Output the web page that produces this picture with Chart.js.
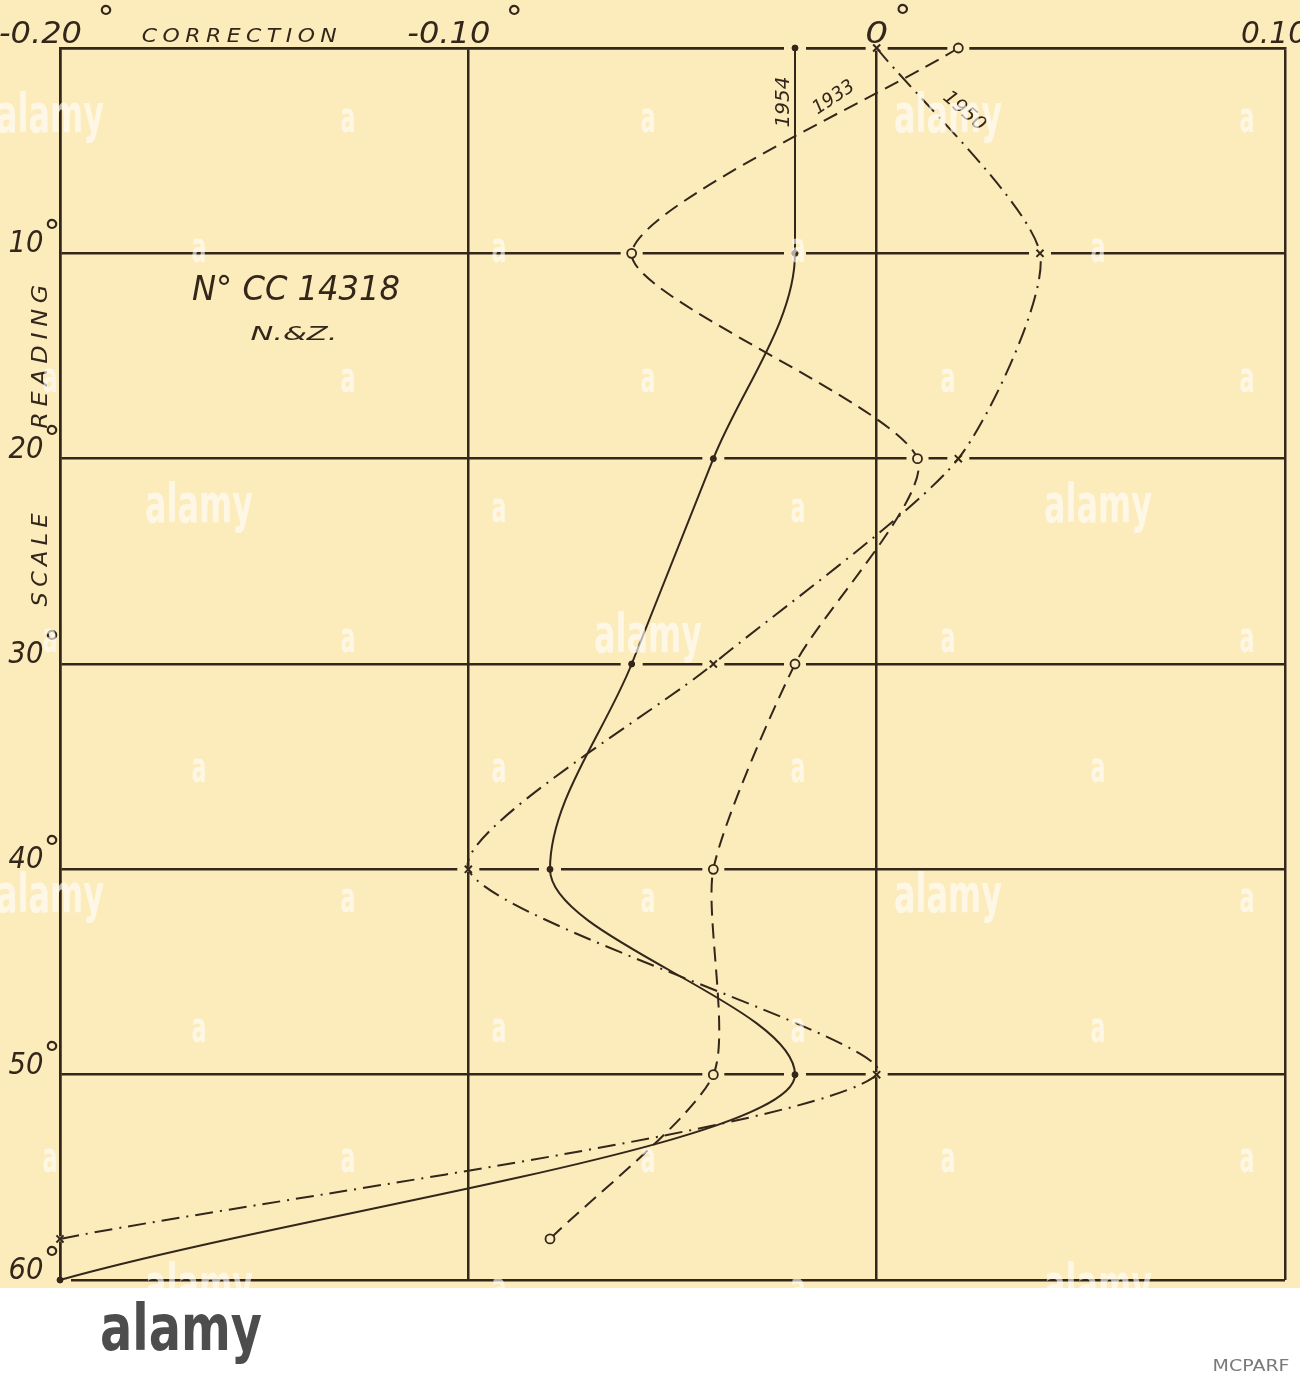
<!DOCTYPE html>
<html>
<head>
<meta charset="utf-8">
<script src="https://cdn.jsdelivr.net/npm/chart.js@4.4.1/dist/chart.umd.min.js"></script>
<style>
  html, body { margin: 0; padding: 0; background: #ffffff; }
  canvas { display: block; }
</style>
</head>
<body>
<canvas id="c" width="1300" height="1376"></canvas>
<script>
// ---------------- DATA ----------------
const readings = [0, 10, 20, 30, 40, 50, 60];
const readingsShort = [0, 10, 20, 30, 40, 50, 58];
const correction1954 = [-0.02, -0.02, -0.04, -0.06, -0.08, -0.02, -0.20];
const correction1933 = [0.02, -0.06, 0.01, -0.02, -0.04, -0.04, -0.08];
const correction1950 = [0.00, 0.04, 0.02, -0.04, -0.10, 0.00, -0.20];
const correctionTicks = [-0.20, -0.10, 0, 0.10];
const readingTicks = [10, 20, 30, 40, 50, 60];
const seriesNames = ['1954', '1933', '1950'];
const axisTitleX = 'CORRECTION';
const axisTitleY = ['SCALE', 'READING'];
const instrumentLabel = ['N\u00B0 CC 14318', 'N.&Z.'];

// ---------------- STYLE ----------------
const ink = '#33261a';
const paper = '#fcebbb';
const FONT = '"DejaVu Sans"';

function pts(xs, ys) { return xs.map((v, i) => ({ x: v, y: ys[i] })); }

function drawFitted(ctx, text, cx, baseY, size, width, angle, opts) {
  opts = opts || {};
  ctx.save();
  ctx.translate(cx, baseY);
  if (angle) ctx.rotate(angle);
  ctx.font = (opts.style || 'italic') + ' ' + (opts.weight || 'normal') + ' ' + size + 'px ' + (opts.family || FONT);
  if (opts.spacing && 'letterSpacing' in ctx) ctx.letterSpacing = opts.spacing + 'px';
  let w = ctx.measureText(text).width;
  if (opts.spacing && 'letterSpacing' in ctx) w -= opts.spacing;
  if (width) ctx.scale(width / w, 1);
  ctx.textAlign = 'center';
  ctx.textBaseline = 'alphabetic';
  ctx.fillStyle = opts.color || ink;
  ctx.fillText(text, 0, 0);
  ctx.restore();
}

function degree(ctx, cx, cy) {
  drawFitted(ctx, '\u00B0', cx, cy + 20, 34, null, 0, { style: 'normal' });
}

const bgPlugin = {
  id: 'paper',
  beforeDraw(chart) {
    const ctx = chart.ctx;
    ctx.save();
    ctx.fillStyle = '#ffffff';
    ctx.fillRect(0, 0, chart.width, chart.height);
    ctx.fillStyle = paper;
    ctx.fillRect(0, 0, chart.width, 1288);
    ctx.restore();
  }
};

const gapPlugin = {
  id: 'gaps',
  beforeDatasetsDraw(chart) {
    const ctx = chart.ctx;
    ctx.save();
    ctx.fillStyle = paper;
    chart.data.datasets.forEach((ds, i) => {
      chart.getDatasetMeta(i).data.forEach(p => {
        ctx.fillRect(p.x - 11, p.y - 2.5, 22, 5);
      });
    });
    ctx.restore();
  }
};

const textPlugin = {
  id: 'texts',
  afterDraw(chart) {
    const ctx = chart.ctx;
    const xs = chart.scales.x, ys = chart.scales.y;

    correctionTicks.forEach(v => {
      const px = xs.getPixelForValue(v);
      if (Math.abs(v) < 1e-9) {
        drawFitted(ctx, '0', px, 43, 30, 23);
        degree(ctx, px + 26, 9);
      } else {
        const t = (v < 0 ? '-' : '') + Math.abs(v).toFixed(2);
        const w = v < 0 ? 83 : 66;
        const left = v < 0 ? px - 61 : px - 44;
        drawFitted(ctx, t, left + w / 2, 43, 30, w);
        degree(ctx, px + 46, 10);
      }
    });
    drawFitted(ctx, axisTitleX, 242, 42, 20, 195, 0, { spacing: 5 });

    readingTicks.forEach(r => {
      const py = ys.getPixelForValue(r);
      drawFitted(ctx, String(r), 26, py - 1, 30, 35);
      degree(ctx, 52, py - 29);
    });
    drawFitted(ctx, axisTitleY[1], 47, ys.getPixelForValue(14.9), 21, 144, -Math.PI / 2, { spacing: 5 });
    drawFitted(ctx, axisTitleY[0], 47, ys.getPixelForValue(24.8), 21, 93, -Math.PI / 2, { spacing: 5 });

    drawFitted(ctx, instrumentLabel[0], 296, 300, 34, 208);
    drawFitted(ctx, instrumentLabel[1], 294, 340, 20, 87);

    drawFitted(ctx, seriesNames[0], xs.getPixelForValue(-0.0215), ys.getPixelForValue(2.63), 19, 51, -Math.PI / 2);
    drawFitted(ctx, seriesNames[1], xs.getPixelForValue(-0.0098), ys.getPixelForValue(2.63), 19, 46, -34 * Math.PI / 180);
    drawFitted(ctx, seriesNames[2], xs.getPixelForValue(0.0206), ys.getPixelForValue(3.26), 19, 50, 41 * Math.PI / 180);

    // stock-photo watermark overlay
    ctx.save();
    const wmColor = 'rgba(255,255,255,0.62)';
    const big = [[50,120],[948,120],[199,510],[1098,510],[648,640],[50,900],[948,900],[199,1290],[1098,1290]];
    const isBig = (x, y) => big.some(b => b[0] === x && b[1] === y);
    const evenX = [50, 348, 648, 948, 1247];
    const oddX = [199, 499, 798, 1098];
    for (let k = 0; k < 10; k++) {
      const y = 120 + 130 * k;
      const row = (k % 2 === 0) ? evenX : oddX;
      row.forEach(x => {
        if (isBig(x, y)) {
          drawFitted(ctx, 'alamy', x, y + 12, 54, 108, 0, { style: 'normal', weight: 'bold', color: wmColor });
        } else {
          drawFitted(ctx, 'a', x, y + 12, 42, 15, 0, { style: 'normal', weight: 'bold', color: wmColor });
        }
      });
    }
    ctx.restore();

    // bottom band
    ctx.save();
    ctx.fillStyle = '#ffffff';
    ctx.fillRect(0, 1288, chart.width, chart.height - 1288);
    ctx.restore();
    drawFitted(ctx, 'alamy', 181, 1350, 64, 162, 0, { style: 'normal', weight: 'bold', color: '#4d4d4d' });
    drawFitted(ctx, 'MCPARF', 1251, 1371, 15, 77, 0, { style: 'normal', color: '#7a7a7a' });
  }
};

const common = { borderColor: ink, borderWidth: 2, clip: false, fill: false, pointBorderColor: ink };

const datasets = [
  Object.assign({}, common, {
    label: seriesNames[0], data: pts(correction1954, readings), cubicInterpolationMode: 'monotone',
    pointStyle: 'circle', pointRadius: 3, pointBackgroundColor: ink, pointBorderWidth: 1
  }),
  Object.assign({}, common, {
    label: seriesNames[1], data: pts(correction1933, readingsShort), tension: 0.22,
    borderDash: [15, 8], pointStyle: 'circle', pointRadius: 4.5, pointBackgroundColor: paper, pointBorderWidth: 1.8
  }),
  Object.assign({}, common, {
    label: seriesNames[2], data: pts(correction1950, readingsShort), tension: 0.22,
    borderDash: [18, 7, 2, 7], pointStyle: 'crossRot', pointRadius: 5, pointBackgroundColor: ink, pointBorderWidth: 2
  })
];

const gridStyle = { color: ink, lineWidth: 2.5, drawTicks: false };
const borderStyle = { display: true, color: ink, width: 2.5 };

new Chart(document.getElementById('c'), {
  type: 'line',
  data: { datasets },
  options: {
    responsive: false,
    animation: false,
    events: [],
    indexAxis: 'y',
    layout: { padding: { left: 60, top: 48, right: 15, bottom: 96 } },
    plugins: { legend: { display: false }, tooltip: { enabled: false }, title: { display: false } },
    scales: {
      x: { type: 'linear', position: 'top', min: -0.2, max: 0.1,
           ticks: { display: false, stepSize: 0.1 }, grid: gridStyle, border: borderStyle },
      y: { type: 'linear', position: 'left', min: 0, max: 60, reverse: true,
           ticks: { display: false, stepSize: 10 }, grid: gridStyle, border: borderStyle }
    }
  },
  plugins: [bgPlugin, gapPlugin, textPlugin]
});
</script>
</body>
</html>
